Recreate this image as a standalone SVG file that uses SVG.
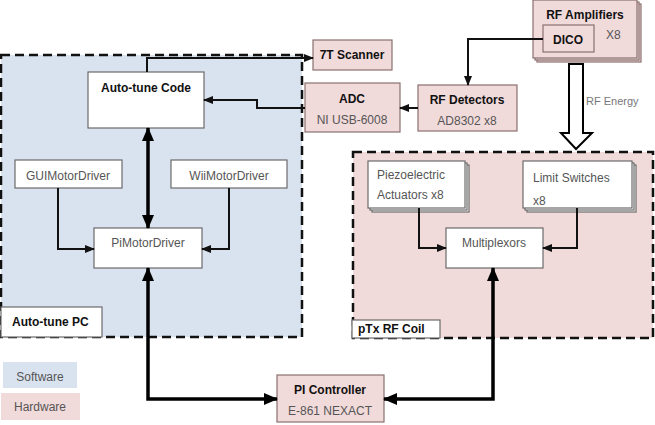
<svg xmlns="http://www.w3.org/2000/svg" width="655" height="425" viewBox="0 0 655 425">
<defs>
<style>
text{font-family:"Liberation Sans",Arial,sans-serif;font-size:12px;fill:#555}
.b{font-weight:bold;fill:#111}
.c{text-anchor:middle}
.wb{fill:#fff;stroke:#6b6b6b;stroke-width:1.2}
.hw{fill:#f1dada;stroke:#8a7070;stroke-width:1.2}
.dash{stroke:#111;stroke-width:2.5;stroke-dasharray:9,5}
.thin{fill:none;stroke:#111;stroke-width:2}
.thick{fill:none;stroke:#000;stroke-width:3.5}
</style>
<marker id="a" markerUnits="userSpaceOnUse" markerWidth="10" markerHeight="10" refX="9" refY="5" orient="auto-start-reverse"><path d="M0,1 L10,5 L0,9 Z" fill="#111"/></marker>
<marker id="A" markerUnits="userSpaceOnUse" markerWidth="14" markerHeight="14" refX="13" refY="7" orient="auto-start-reverse"><path d="M0,1 L14,7 L0,13 Z" fill="#000"/></marker>
</defs>
<rect width="655" height="425" fill="#fff"/>

<g id="autotune-pc">
<rect x="1" y="55" width="301" height="282" fill="#d9e2ef" class="dash"/>
<rect x="1" y="307" width="101" height="30" class="wb"/>
<text x="12" y="326" class="b">Auto-tune PC</text>
</g>
<g id="ptx-coil">
<rect x="353" y="152" width="300" height="186" fill="#f1dada" class="dash"/>
<rect x="352" y="320" width="88" height="18" class="wb"/>
<text x="358" y="333" class="b">pTx RF Coil</text>
</g>

<g id="autotune-code"><rect x="88" y="72" width="116" height="56" class="wb"/><text x="146" y="92" class="b c">Auto-tune Code</text></g>
<g id="gui"><rect x="15" y="160" width="107" height="28" class="wb"/><text x="68" y="180" class="c">GUIMotorDriver</text></g>
<g id="wii"><rect x="171" y="160" width="116" height="28" class="wb"/><text x="229" y="180" class="c">WiiMotorDriver</text></g>
<g id="pimotor"><rect x="94" y="228" width="108" height="40" class="wb"/><text x="148" y="247" class="c">PiMotorDriver</text></g>

<g id="scanner"><rect x="313" y="40" width="79" height="30" class="hw"/><text x="352" y="59" class="b c">7T Scanner</text></g>
<g id="adc"><rect x="305" y="83" width="95" height="49" class="hw"/><text x="352" y="103" class="b c">ADC</text><text x="352" y="124" class="c">NI USB-6008</text></g>
<g id="rfdet"><rect x="418" y="85" width="99" height="46" class="hw"/><text x="467" y="104" class="b c">RF Detectors</text><text x="467" y="125" class="c">AD8302 x8</text></g>
<g id="rfamp">
<rect x="537" y="4" width="104" height="58" class="hw"/>
<rect x="535" y="2" width="104" height="58" class="hw"/>
<rect x="533" y="0" width="104" height="58" class="hw"/>
<text x="585" y="19" class="b c">RF Amplifiers</text>
<rect x="543" y="25" width="51" height="27" class="hw"/>
<text x="568" y="44" class="b c">DICO</text>
<text x="606" y="39">X8</text>
</g>

<g id="piezo">
<rect x="372" y="165" width="97" height="47" class="wb"/>
<rect x="370" y="163" width="97" height="47" class="wb"/>
<rect x="368" y="161" width="97" height="47" class="wb"/>
<text x="377" y="179">Piezoelectric</text><text x="377" y="199">Actuators x8</text>
</g>
<g id="limit">
<rect x="527" y="165" width="109" height="47" class="wb"/>
<rect x="525" y="163" width="109" height="47" class="wb"/>
<rect x="523" y="161" width="109" height="47" class="wb"/>
<text x="533" y="182">Limit Switches</text><text x="533" y="205">x8</text>
</g>
<g id="mux"><rect x="446" y="228" width="97" height="40" class="wb"/><text x="494" y="247" class="c">Multiplexors</text></g>

<g id="pi-controller"><rect x="277" y="375" width="107" height="47" class="hw"/><text x="330" y="394" class="b c">PI Controller</text><text x="330" y="415" class="c">E-861 NEXACT</text></g>

<g id="legend">
<rect x="3" y="362" width="74" height="26" fill="#d9e2ef"/><text x="40" y="381" class="c">Software</text>
<rect x="1" y="393" width="79" height="27" fill="#f1dada"/><text x="40" y="411" class="c">Hardware</text>
</g>

<g id="connectors">
<path d="M147,72 V58 H313" class="thin" marker-end="url(#a)"/>
<path d="M305,108 H257 V100 H204" class="thin" marker-end="url(#a)"/>
<path d="M418,108 H400" class="thin" marker-end="url(#a)"/>
<path d="M543,39 H468 V85" class="thin" marker-end="url(#a)"/>
<path d="M58,188 V249 H94" class="thin" marker-end="url(#a)"/>
<path d="M229,188 V249 H202" class="thin" marker-end="url(#a)"/>
<path d="M419,208 V248 H446" class="thin" marker-end="url(#a)"/>
<path d="M577,208 V248 H543" class="thin" marker-end="url(#a)"/>
<path d="M148,128 V228" class="thick" marker-start="url(#A)" marker-end="url(#A)"/>
<path d="M277,399 H148 V268" class="thick" marker-start="url(#A)" marker-end="url(#A)"/>
<path d="M384,399 H493 V268" class="thick" marker-start="url(#A)" marker-end="url(#A)"/>
<polygon points="569,64 583,64 583,133 592,133 576,149 561,133 569,133" fill="#fff" stroke="#000" stroke-width="2"/>
<text x="586" y="105" style="font-size:11px;fill:#777">RF Energy</text>
</g>
</svg>
